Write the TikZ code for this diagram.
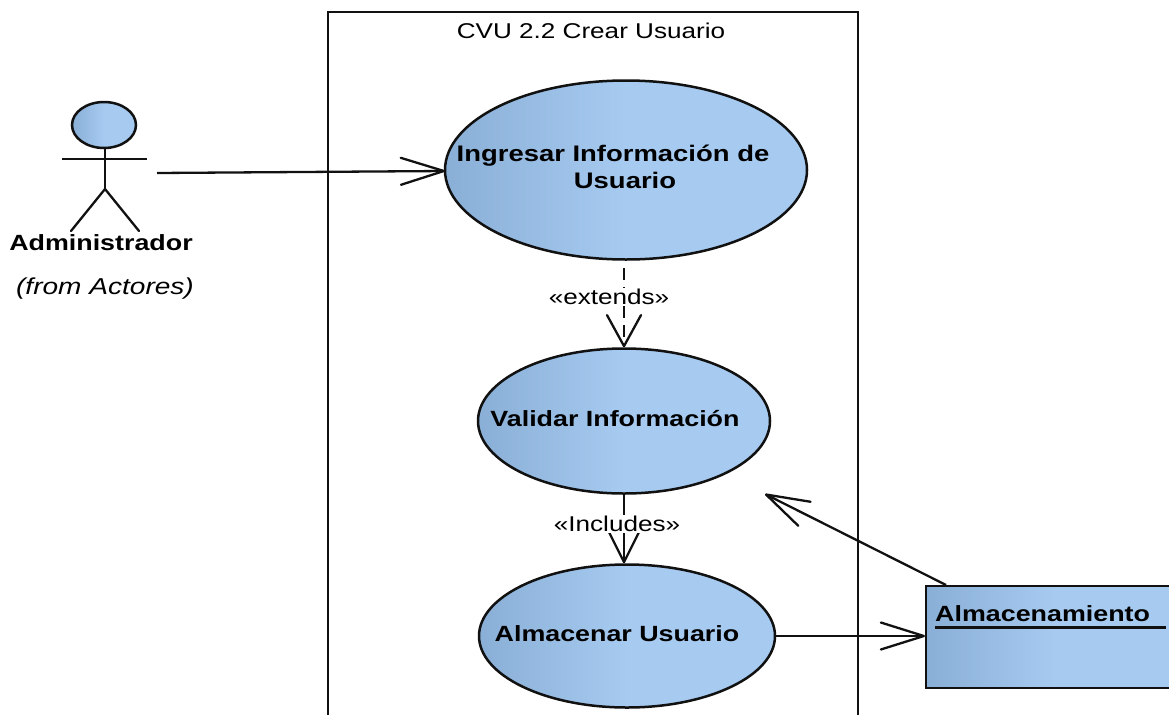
\documentclass[tikz,border=0pt]{standalone}
\usepackage{fontspec}
\setmainfont[FakeStretch=1.22]{Liberation Sans}
\usetikzlibrary{arrows.meta,shapes.geometric}
\definecolor{gradL}{HTML}{8AAFD6}
\definecolor{gradR}{HTML}{A6CAF0}
\definecolor{lineC}{HTML}{111111}
\tikzset{
  blue fill/.style={left color=gradL,right color=gradR,middle color=gradR},
  usecase/.style={ellipse,draw=lineC,line width=2.5pt,blue fill,inner sep=0pt},
  boldtxt/.style={font=\fontsize{22}{27}\selectfont\bfseries,text=black,inner sep=0pt,align=center},
  plaintxt/.style={font=\fontsize{21.4}{26}\selectfont,text=black,inner sep=1pt},
  conn/.style={draw=lineC,line width=2.3pt},
  open/.style={conn,-{Straight Barb[length=43pt,width=27pt,line width=2.3pt,round]}}
}
\begin{document}
\begin{tikzpicture}[x=1pt,y=-1pt]
\useasboundingbox (0,0) rectangle (1169,715);
\clip (0,0) rectangle (1169,715);
% system frame
\coordinate (fTL) at (328,12);
\coordinate (fTR) at (858,12);
\coordinate (fBL) at (328,715);
\coordinate (fBR) at (858,715);
\draw[draw=lineC,line width=2.5pt] (fBL) -- (fTL) -- (fTR) -- (fBR);
\node[plaintxt] (title) at (591,31) {CVU 2.2 Crear Usuario};
% use cases
\node[usecase,minimum width=362pt,minimum height=179pt] (e1) at (626,170) {};
\node[usecase,minimum width=292pt,minimum height=145pt] (e2) at (624,421) {};
\node[usecase,minimum width=296pt,minimum height=143pt] (e3) at (627,636) {};
\node[boldtxt,font=\fontsize{22.5}{27}\selectfont\bfseries] (t1) at (613,166.5) {Ingresar Información de\\\hspace{24pt}Usuario};
\node[boldtxt] (t2) at (615,419) {Validar Información};
\node[boldtxt] (t3) at (617,634) {Almacenar Usuario};
% component
\node[draw=lineC,line width=2.2pt,blue fill,minimum width=260pt,minimum height=102pt,anchor=north west,inner sep=0pt] (box) at (925,585) {};
\node[boldtxt,anchor=base west] (t4) at (935,621) {Almacenamiento};
\coordinate (u1) at (935,627.5);
\coordinate (u2) at (1166,627.5);
\draw[draw=lineC,line width=2.2pt] (u1) -- (u2);
% actor
\node[ellipse,draw=lineC,line width=2.5pt,blue fill,inner sep=0pt,minimum width=64pt,minimum height=46pt] (head) at (104,125) {};
\coordinate (armL) at (62,159);
\coordinate (armR) at (147,159);
\coordinate (hip) at (105,189);
\coordinate (legL) at (71,231);
\coordinate (legR) at (139,231);
\draw[conn] (armL) -- (armR);
\draw[conn] (head.south -| hip) -- (hip);
\draw[conn,line cap=round] (legL) -- (hip) -- (legR);
\node[boldtxt] (t5) at (101,243) {Administrador};
\node[plaintxt,font=\fontsize{23}{26}\selectfont\itshape] (t6) at (105,289) {(from Actores)};
% connectors
\coordinate (aOut) at (157,173);
\coordinate (e1in) at (445,171);
\draw[open] (aOut) -- (e1in);
\draw[conn,dash pattern=on 12pt off 7pt,shorten <=7pt,-{Straight Barb[length=31pt,width=34pt,line width=2.3pt,round]}] (e1.south -| e2.north) -- (e2.north);
\node[plaintxt,fill=white] (l1) at (609,297) {«extends»};
\draw[conn,-{Straight Barb[length=33pt,width=33pt,line width=2.3pt,round]}] (e2.south) -- (e2.south |- e3.north);
\node[plaintxt,fill=white] (l2) at (617,524) {«Includes»};
\coordinate (st) at (765,494);
\coordinate (bx) at (946,585);
\draw[open] (bx) -- (st);
\draw[open] (e3.east) -- (box.west |- e3.east);
\end{tikzpicture}
\end{document}
